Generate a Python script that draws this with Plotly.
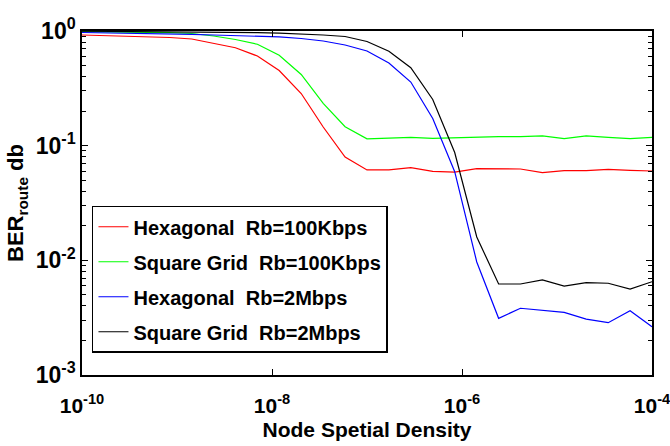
import plotly.graph_objects as go

# Node spatial density (x) sample points
density = [1.0e-10, 1.70e-10, 2.89e-10, 4.92e-10, 8.38e-10, 1.43e-9, 2.43e-9,
           4.12e-9, 7.02e-9, 1.19e-8, 2.03e-8, 3.46e-8, 5.88e-8, 1.0e-7,
           1.70e-7, 2.89e-7, 4.92e-7, 8.38e-7, 1.43e-6, 2.43e-6, 4.12e-6,
           7.02e-6, 1.19e-5, 2.03e-5, 3.46e-5, 5.88e-5, 1.0e-4]

hex_100k = [0.923, 0.914, 0.905, 0.892, 0.878, 0.852, 0.786, 0.715, 0.605, 0.452,
            0.285, 0.1455, 0.0796, 0.0614, 0.0614, 0.0643, 0.0596, 0.0589, 0.0630,
            0.0626, 0.0626, 0.0583, 0.0605, 0.0605, 0.0622, 0.0610, 0.0601]
sq_100k = [0.986, 0.984, 0.980, 0.976, 0.968, 0.951, 0.905, 0.843, 0.766, 0.614,
           0.418, 0.234, 0.1463, 0.1148, 0.1161, 0.1183, 0.1160, 0.1174, 0.1198,
           0.1198, 0.1198, 0.1215, 0.1150, 0.1215, 0.1183, 0.1150, 0.1183]
hex_2m = [0.970, 0.964, 0.961, 0.955, 0.945, 0.936, 0.923, 0.914, 0.901, 0.887,
          0.860, 0.818, 0.755, 0.669, 0.526, 0.359, 0.1726, 0.0593, 0.00967,
          0.00312, 0.00382, 0.00367, 0.00352, 0.00307, 0.00286, 0.00364, 0.00264]
sq_2m = [0.996, 0.994, 0.992, 0.990, 0.988, 0.984, 0.980, 0.974, 0.967, 0.957,
         0.942, 0.923, 0.895, 0.810, 0.665, 0.479, 0.253, 0.0872, 0.01598,
         0.00622, 0.00622, 0.00674, 0.00595, 0.00638, 0.00631, 0.00562, 0.00651]

series_names = ["Hexagonal\u00a0\u00a0Rb=100Kbps", "Square Grid\u00a0\u00a0Rb=100Kbps",
                "Hexagonal\u00a0\u00a0Rb=2Mbps", "Square Grid\u00a0\u00a0Rb=2Mbps"]
series_values = [hex_100k, sq_100k, hex_2m, sq_2m]
series_colors = ["#ff0000", "#00ff00", "#0000ff", "#000000"]

x_tickvals = [1e-10, 1e-8, 1e-6, 1e-4]
x_ticktext = ["10<sup>-10</sup>", "10<sup>-8</sup>", "10<sup>-6</sup>", "10<sup>-4</sup>"]
y_tickvals = [1e-3, 1e-2, 1e-1, 1]
y_ticktext = ["10<sup>-3</sup>", "10<sup>-2</sup>", "10<sup>-1</sup>", "10<sup>0</sup>"]

FONT = "Liberation Sans, Arial, sans-serif"

fig = go.Figure()
for i, (name, vals, col) in enumerate(zip(series_names, series_values, series_colors)):
    fig.add_trace(go.Scatter(x=density, y=vals, mode="lines", name=name,
                             legendgroup=f"g{i}",
                             line=dict(color=col, width=1.2)))

y_minor = [m * 10.0 ** e for e in (-3, -2, -1) for m in range(2, 10)]

fig.update_layout(
    width=670, height=446,
    margin=dict(l=82, r=18, t=31, b=71, autoexpand=False),
    paper_bgcolor="white", plot_bgcolor="white",
    font=dict(family=FONT, size=22, color="black", weight="bold"),
    showlegend=True,
    legend=dict(x=0.0175, y=0.492, xanchor="left", yanchor="top",
                bgcolor="white", bordercolor="black", borderwidth=1.5,
                font=dict(family=FONT, size=20, color="black", weight="bold"),
                tracegroupgap=6, traceorder="grouped", itemwidth=30),
    xaxis=dict(type="log", range=[-10, -4], showgrid=False, zeroline=False,
               automargin=False,
               showline=True, linecolor="black", linewidth=1.5, mirror="ticks",
               ticks="inside", ticklen=6, tickcolor="black", tickwidth=1,
               tickvals=x_tickvals, ticktext=x_ticktext,
               ticklabeloverflow="allow", ticklabelstandoff=11,
               tickfont=dict(family=FONT, size=21, weight="bold"),
               title=dict(text="Node Spetial Density", standoff=6,
                          font=dict(family=FONT, size=21, weight="bold"))),
    yaxis=dict(type="log", range=[-3, 0], showgrid=False, zeroline=False,
               automargin=False,
               showline=True, linecolor="black", linewidth=1.5, mirror="ticks",
               ticks="inside", ticklen=6, tickcolor="black", tickwidth=1,
               tickvals=y_tickvals, ticktext=y_ticktext,
               tickfont=dict(family=FONT, size=23, weight="bold"),
               minor=dict(ticks="inside", ticklen=4, tickcolor="black",
                          tickvals=y_minor, showgrid=False),
               title=dict(text="BER<sub>route</sub> db", standoff=6,
                          font=dict(family=FONT, size=22, weight="bold"))),
)

fig.write_html("out.html")
